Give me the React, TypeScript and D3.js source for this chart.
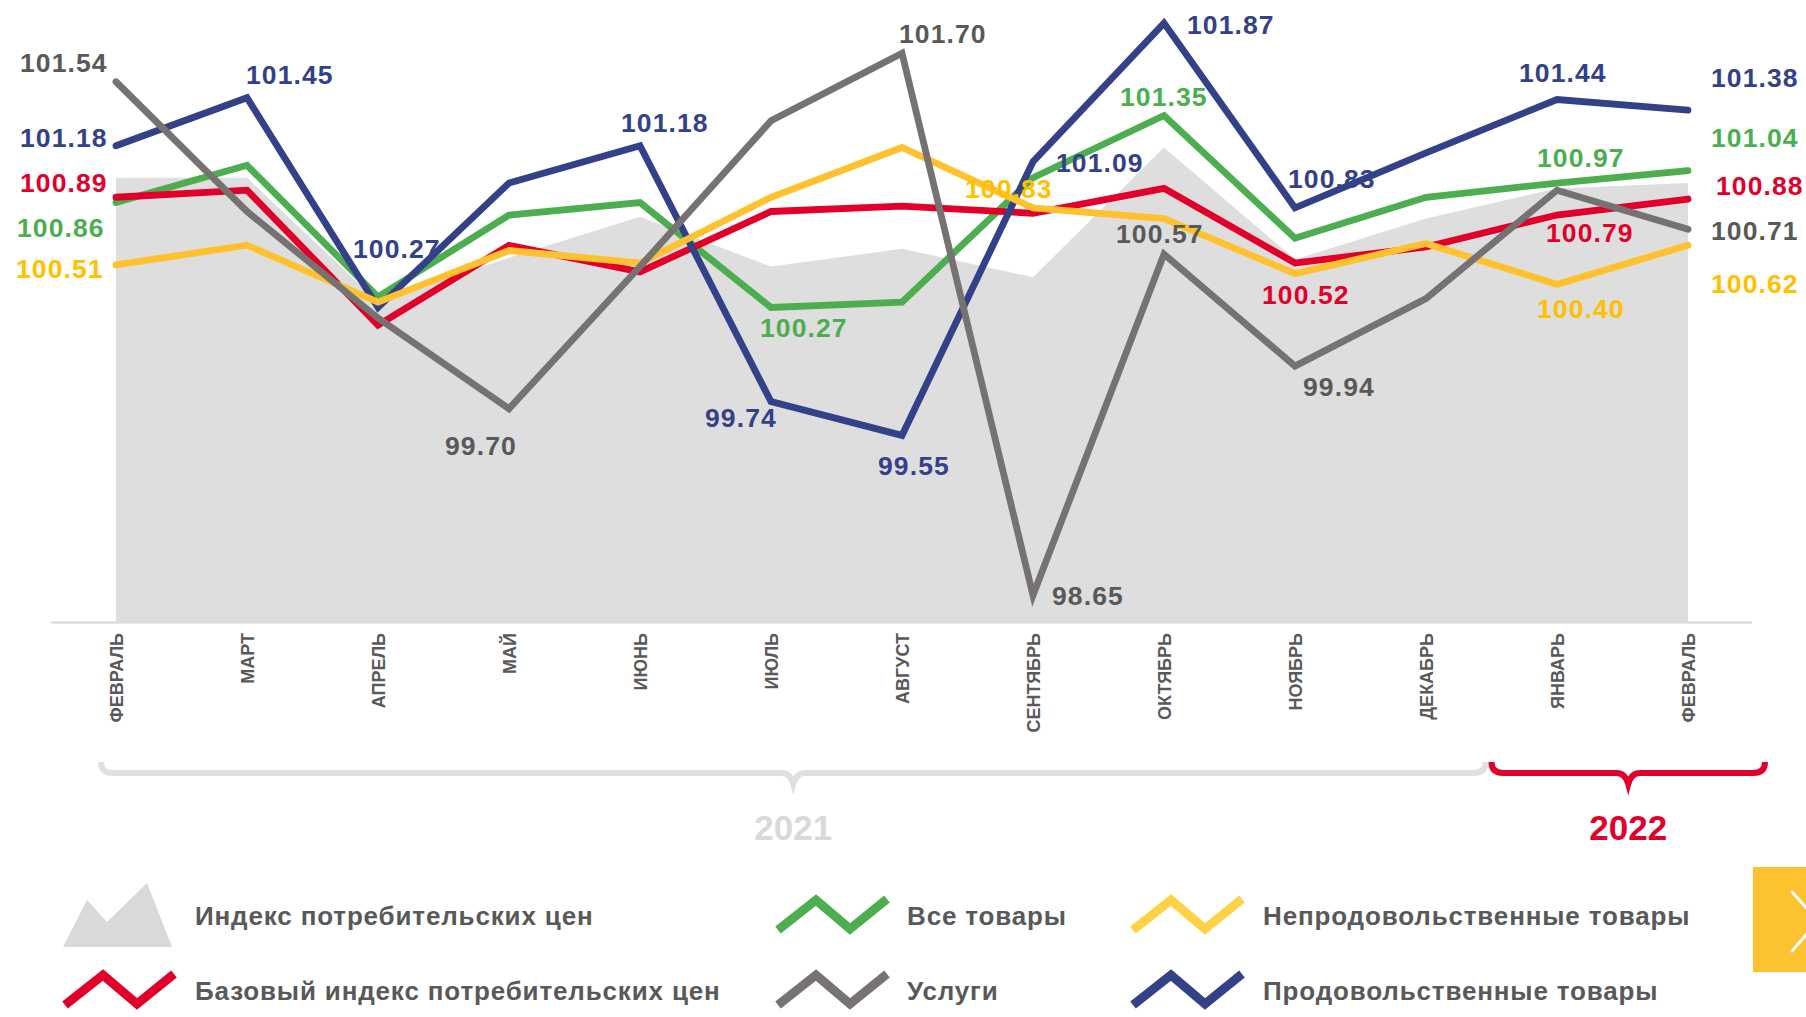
import React from 'react';
import * as d3 from 'd3';

// months Feb 2021 .. Feb 2022
const months = [
  'ФЕВРАЛЬ', 'МАРТ', 'АПРЕЛЬ', 'МАЙ', 'ИЮНЬ', 'ИЮЛЬ', 'АВГУСТ',
  'СЕНТЯБРЬ', 'ОКТЯБРЬ', 'НОЯБРЬ', 'ДЕКАБРЬ', 'ЯНВАРЬ', 'ФЕВРАЛЬ',
];

const cpiIndex = [101.0, 101.0, 100.3, 100.55, 100.78, 100.5, 100.6, 100.44, 101.17, 100.54, 100.77, 100.94, 100.97];
const coreCpi = [100.89, 100.93, 100.17, 100.62, 100.47, 100.81, 100.84, 100.8, 100.94, 100.52, 100.61, 100.79, 100.88];
const allGoods = [100.86, 101.07, 100.33, 100.79, 100.86, 100.27, 100.3, 101.0, 101.35, 100.66, 100.89, 100.97, 101.04];
const nonFoodGoods = [100.51, 100.62, 100.3, 100.59, 100.52, 100.89, 101.17, 100.83, 100.77, 100.46, 100.63, 100.4, 100.62];
const services = [101.54, 100.81, 100.21, 99.7, 100.5, 101.32, 101.7, 98.65, 100.57, 99.94, 100.32, 100.93, 100.71];
const foodGoods = [101.18, 101.45, 100.27, 100.97, 101.18, 99.74, 99.55, 101.09, 101.87, 100.83, 101.14, 101.44, 101.38];

const years = ['2021', '2022'];

const legendNames = [
  'Индекс потребительских цен',
  'Базовый индекс потребительских цен',
  'Все товары',
  'Услуги',
  'Непродовольственные товары',
  'Продовольственные товары',
];

const series = [
  { key: 'goods', values: allGoods, color: '#4dae50', text: '#4dae50' },
  { key: 'core', values: coreCpi, color: '#e2002b', text: '#e2002b' },
  { key: 'food', values: foodGoods, color: '#334188', text: '#334188' },
  { key: 'nonfood', values: nonFoodGoods, color: '#ffc12e', text: '#ffc000' },
  { key: 'services', values: services, color: '#767272', text: '#595959' },
];

// which points carry a value label, and where the label sits relative to the point
const labelPlacement: [string, number, number, number][] = [
  ['services', 0, -96, -10],
  ['food', 0, -96, 1],
  ['core', 0, -96, -5],
  ['goods', 0, -99, 34],
  ['nonfood', 0, -100, 13],
  ['food', 1, -1, -14],
  ['food', 2, -25, -49],
  ['food', 4, -19, -14],
  ['services', 3, -64, 46],
  ['goods', 5, -11, 30],
  ['food', 5, -66, 25],
  ['food', 6, -24, 40],
  ['services', 6, -3, -10],
  ['food', 8, 23, 11],
  ['goods', 8, -44, -10],
  ['food', 7, 23, 10],
  ['nonfood', 7, -68, -10],
  ['services', 8, -48, -11],
  ['services', 7, 19, 10],
  ['food', 9, -7, -20],
  ['core', 9, -33, 41],
  ['services', 9, 8, 30],
  ['food', 11, -38, -18],
  ['goods', 11, -20, -16],
  ['core', 11, -11, 27],
  ['nonfood', 11, -20, 34],
  ['food', 12, 23, -23],
  ['goods', 12, 23, -24],
  ['core', 12, 28, -4],
  ['services', 12, 23, 11],
  ['nonfood', 12, 23, 48],
];

const W = 1806;
const H = 1017;
const FONT = "'Liberation Sans', Arial, Helvetica, sans-serif";

const x = d3.scaleLinear().domain([0, months.length - 1]).range([116, 1688]);
const y = d3.scaleLinear().domain([98.5, 102]).range([622, 0]);

const bracePath = (x0: number, x1: number, yTop: number, yMid: number, yTip: number) => {
  const cx = (x0 + x1) / 2;
  return `M${x0},${yTop} Q${x0},${yMid} ${x0 + 12},${yMid} L${cx - 12},${yMid} Q${cx - 3},${yMid} ${cx},${yTip} Q${cx + 3},${yMid} ${cx + 12},${yMid} L${x1 - 12},${yMid} Q${x1},${yMid} ${x1},${yTop}`;
};

const zigzag = (x0: number, cy: number) =>
  `M${x0 + 2},${cy + 15} L${x0 + 40},${cy - 15} L${x0 + 74},${cy + 14} L${x0 + 111},${cy - 16}`;

const App = () => {
  const line = d3
    .line<number>()
    .x((_, i) => x(i))
    .y(d => y(d));
  const area = d3
    .area<number>()
    .x((_, i) => x(i))
    .y0(y(98.5))
    .y1(d => y(d));

  const byKey: Record<string, typeof series[number]> = {};
  series.forEach(s => (byKey[s.key] = s));

  const split = x(10.5);
  const braces = [
    { x0: x(0) - 15, x1: split - 6, color: '#e0e0e0', text: '#d9d9d9' },
    { x0: split, x1: x(12) + 77, color: '#e2002b', text: '#e2002b' },
  ];

  // legend layout: [icon x, text x, row center]
  const legendPos = [
    [63, 195, 915],
    [63, 195, 990],
    [776, 907, 915],
    [776, 907, 990],
    [1131, 1263, 915],
    [1131, 1263, 990],
  ];
  const legendColors = ['#d9d9d9', '#e2002b', '#4dae50', '#777373', '#ffd145', '#334188'];

  return (
    <svg
      width={W}
      height={H}
      style={{ position: 'absolute', left: 0, top: 0, background: '#fff' }}
      fontFamily={FONT}
    >
      <path d={area(cpiIndex) || ''} fill="#dedede" />
      <line x1={51} x2={1752} y1={622.5} y2={622.5} stroke="#dcdcdc" strokeWidth={2.5} />

      {series.map(s => (
        <path
          key={s.key}
          d={line(s.values) || ''}
          fill="none"
          stroke={s.color}
          strokeWidth={6.8}
          strokeLinecap="round"
          strokeLinejoin="miter"
        />
      ))}

      {labelPlacement.map(([key, i, dx, dy], n) => {
        const s = byKey[key];
        const v = s.values[i];
        return (
          <text
            key={n}
            x={x(i) + dx}
            y={y(v) + dy}
            fill={s.text}
            fontSize={26.5}
            fontWeight="bold"
            letterSpacing={1.1}
          >
            {v.toFixed(2)}
          </text>
        );
      })}

      {months.map((m, i) => (
        <text
          key={i}
          transform={`translate(${x(i) + 6.5},633) rotate(-90)`}
          textAnchor="end"
          fill="#595959"
          fontSize={18}
          fontWeight="bold"
        >
          {m}
        </text>
      ))}

      {braces.map((b, i) => (
        <g key={years[i]}>
          <path
            d={bracePath(b.x0, b.x1, 762, 773, 784)}
            fill="none"
            stroke={b.color}
            strokeWidth={6}
          />
          <text
            x={(b.x0 + b.x1) / 2}
            y={840}
            textAnchor="middle"
            fill={b.text}
            fontSize={35}
            fontWeight="bold"
          >
            {years[i]}
          </text>
        </g>
      ))}

      {legendNames.map((name, i) => {
        const [ix, tx, cy] = legendPos[i];
        return (
          <g key={name}>
            {i === 0 ? (
              <polygon
                points={`${ix},${cy + 32} ${ix + 24},${cy - 15} ${ix + 44},${cy + 7} ${ix + 84},${cy - 32} ${ix + 109},${cy + 32}`}
                fill={legendColors[i]}
              />
            ) : (
              <path
                d={zigzag(ix, cy)}
                fill="none"
                stroke={legendColors[i]}
                strokeWidth={9}
                strokeLinejoin="miter"
              />
            )}
            <text x={tx} y={cy + 10} fill="#595959" fontSize={26} fontWeight="bold" letterSpacing={0.85}>
              {name}
            </text>
          </g>
        );
      })}

      <rect x={1753} y={867} width={60} height={105} fill="#fdc22f" />
      <polyline
        points="1792,892 1818,921 1792,951"
        fill="none"
        stroke="#fff"
        strokeWidth={3}
        strokeLinecap="round"
      />
    </svg>
  );
};

export default App;
